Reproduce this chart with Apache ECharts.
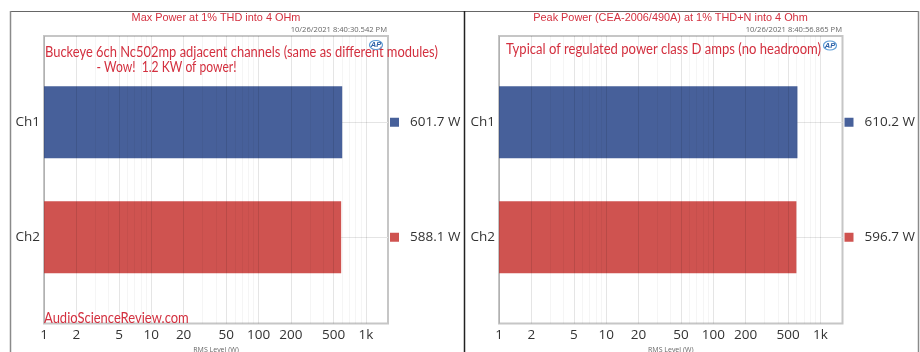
<!DOCTYPE html>
<html><head><meta charset="utf-8">
<style>html,body{margin:0;padding:0;background:#fff}#c{width:920px;height:352px}</style>
<script src="https://cdn.jsdelivr.net/npm/echarts@6/dist/echarts.min.js"></script>
</head><body><div id="c"></div>
<script>
const channels = ['', 'Ch1', '', 'Ch2', ''];
const leftValues = [null, 601.7, null, 588.1, null];
const rightValues = [null, 610.2, null, 596.7, null];
const majorTicks = [1, 2, 5, 10, 20, 50, 100, 200, 500, 1000];
const minorTicks = [3, 4, 6, 7, 8, 9, 30, 40, 60, 70, 80, 90, 300, 400, 600, 700, 800, 900];
const axisMax = 1607;
const blue = '#47609a', red = '#cf5350';
const rowColors = [null, blue, null, red, null];
const labelFont = '"Open Sans"';
const accent = '#d3303f';

const panels = [
  {x0: 44, x1: 388, vals: leftValues},
  {x0: 499, x1: 842.5, vals: rightValues}
];
const grids = [], xAxes = [], yAxes = [], series = [];
panels.forEach((p, i) => {
  grids.push({left: p.x0, width: p.x1 - p.x0, top: 36, height: 287.5, show: true, outerBoundsMode: 'none',
    borderColor: '#c6c6c6', borderWidth: 2, backgroundColor: '#fff', containLabel: false});
  xAxes.push({
    gridIndex: i, type: 'log', logBase: 10, min: 1, max: axisMax, position: 'bottom', z: 5,
    name: 'RMS Level (W)', nameLocation: 'middle', nameGap: 23, nameMoveOverlap: false,
    nameTextStyle: {fontSize: 7, color: '#666', fontFamily: labelFont},
    axisLine: {show: false}, axisTick: {show: false, customValues: majorTicks},
    splitLine: {show: true, lineStyle: {color: 'rgba(0,0,0,0.1)', width: 1}},
    minorSplitLine: {show: false},
    axisLabel: {customValues: majorTicks, fontSize: 13.5, color: '#333', margin: 5, fontFamily: labelFont,
      hideOverlap: false, showMinLabel: true, showMaxLabel: true,
      formatter: v => v >= 1000 ? (v / 1000) + 'k' : String(v)}
  });
  xAxes.push({
    gridIndex: i, type: 'log', logBase: 10, min: 1, max: axisMax, position: 'bottom', z: 5,
    axisLine: {show: false}, axisTick: {show: false, customValues: minorTicks},
    splitLine: {show: true, lineStyle: {color: 'rgba(0,0,0,0.04)', width: 1}},
    axisLabel: {show: false, customValues: minorTicks}
  });
  yAxes.push({
    gridIndex: i, type: 'category', data: channels, inverse: true, position: 'left',
    axisLine: {show: false}, axisTick: {show: false},
    splitLine: {show: false},
    axisLabel: {fontSize: 13.5, color: '#333', margin: 4, fontFamily: labelFont, interval: 0}
  });
  yAxes.push({
    gridIndex: i, type: 'category', data: channels, inverse: true, position: 'right',
    axisLine: {show: false}, axisTick: {show: false, alignWithLabel: true},
    splitLine: {show: true, alignWithLabel: true, interval: k => channels[k] !== '',
      lineStyle: {color: '#e4e4e4', width: 1}},
    axisLabel: {
      interval: 0, margin: 2, fontFamily: labelFont,
      formatter: (v, k) => v === '' ? '' : `{${k === 1 ? 'b' : 'r'}|}{t|${p.vals[k].toFixed(1)} W}`,
      rich: {
        b: {width: 9, height: 9, backgroundColor: blue},
        r: {width: 9, height: 9, backgroundColor: red},
        t: {fontSize: 13.5, color: '#333', fontFamily: labelFont, padding: [0, 0, 0, 11]}
      }
    }
  });
  series.push({
    type: 'bar', xAxisIndex: i * 2, yAxisIndex: i * 2, barWidth: 72, silent: true, z: 3,
    data: p.vals.map((v, k) => v == null ? null : {value: v, itemStyle: {color: rowColors[k]}})
  });
});

const txt = (x, y, text, o, sx) => ({type: 'text', x, y, z: 50, silent: true, scaleX: sx || 1,
  style: Object.assign({text, textVerticalAlign: 'middle'}, o)});
const ann = {fill: accent, font: '14.6px Lato'};
const ttl = {fill: accent, font: '10.9px "Liberation Sans"', textAlign: 'center'};
const stamp = {fill: '#666', font: '7.6px "Open Sans"', textAlign: 'right'};
const logo = (cx, cy) => [
  {type: 'ellipse', z: 50, silent: true, shape: {cx, cy, rx: 6.5, ry: 4.5},
    style: {fill: 'none', stroke: '#5b9bd5', lineWidth: 1.2}},
  txt(cx, cy, 'AP', {fill: '#2a5fa5', font: 'italic bold 7.5px "Liberation Sans"', textAlign: 'center'})
];
const line = (x1, y1, x2, y2, stroke, w) => ({type: 'line', z: 40, silent: true,
  shape: {x1, y1, x2, y2}, style: {stroke, lineWidth: w}});

const graphic = [
  line(10, 11.5, 919, 11.5, '#666', 1),
  line(10.5, 11, 10.5, 352, '#8a8a8a', 1.5),
  line(464.5, 11, 464.5, 352, '#222', 1.5),
  line(918.5, 11, 918.5, 352, '#8a8a8a', 1.5),
  txt(216, 18, 'Max Power at 1% THD into 4 OHm', ttl),
  txt(670.5, 18, 'Peak Power (CEA-2006/490A) at 1% THD+N into 4 Ohm', ttl),
  txt(387, 29.5, '10/26/2021 8:40:30.542 PM', stamp),
  txt(842, 29.5, '10/26/2021 8:40:56.865 PM', stamp),
  txt(45, 52, 'Buckeye 6ch Nc502mp adjacent channels (same as different modules)', ann, 0.885),
  txt(96.5, 67, '- Wow!  1.2 KW of power!', ann, 0.83),
  txt(506, 49.5, 'Typical of regulated power class D amps (no headroom)', ann, 0.895),
  txt(44, 318.5, 'AudioScienceReview.com', ann, 0.89),
  ...logo(376, 45),
  ...logo(830, 45.5)
];

const chart = echarts.init(document.getElementById('c'), null, {renderer: 'canvas'});
chart.setOption({
  animation: false, backgroundColor: '#fff',
  grid: grids, xAxis: xAxes, yAxis: yAxes, series, graphic
});
</script></body></html>
